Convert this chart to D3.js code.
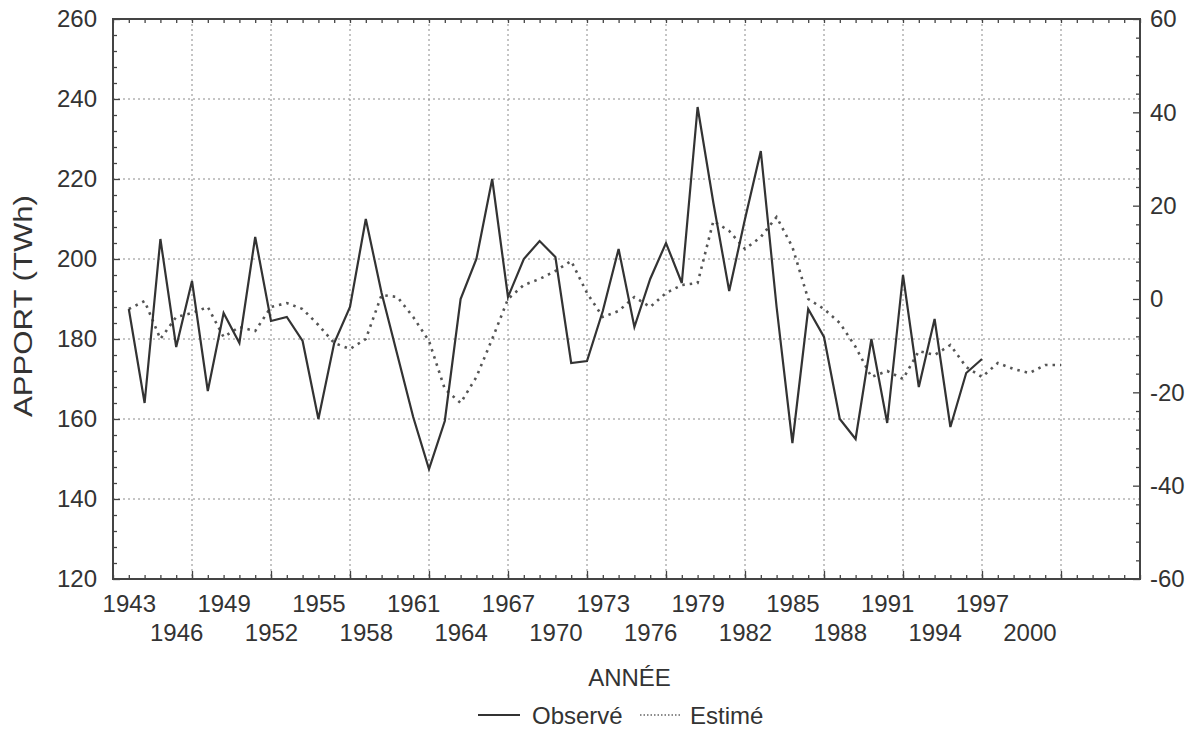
<!DOCTYPE html>
<html>
<head>
<meta charset="utf-8">
<script src="https://cdn.jsdelivr.net/npm/d3@7"></script>
<style>
  body { margin: 0; background: #fff; }
  text { font-family: "Liberation Sans", Arial, sans-serif; fill: #333; }
</style>
</head>
<body>
<svg id="chart"></svg>
<script>
// années + apports observés (TWh)
const anneesObs = [1943, 1944, 1945, 1946, 1947, 1948, 1949, 1950, 1951, 1952,
  1953, 1954, 1955, 1956, 1957, 1958, 1959, 1960, 1961, 1962,
  1963, 1964, 1965, 1966, 1967, 1968, 1969, 1970, 1971, 1972,
  1973, 1974, 1975, 1976, 1977, 1978, 1979, 1980, 1981, 1982,
  1983, 1984, 1985, 1986, 1987, 1988, 1989, 1990, 1991, 1992,
  1993, 1994, 1995, 1996, 1997]
const observe = [187.5, 164, 205, 178, 194.5, 167, 186.5, 179, 205.5, 184.5,
  185.5, 179.5, 160, 179, 188, 210, 191.5, 176, 160.5, 147.5,
  159.5, 190, 200, 220, 190.5, 200, 204.5, 200.5, 174, 174.5,
  187, 202.5, 183, 195, 204, 194, 238, 214, 192, 210,
  227, 188, 154, 187.5, 180.5, 160, 155, 180, 159, 196,
  168, 185, 158, 171.5, 175]

// années + apports estimés
const anneesEst = [1943, 1944, 1945, 1946, 1947, 1948, 1949, 1950, 1951, 1952,
  1953, 1954, 1955, 1956, 1957, 1958, 1959, 1960, 1961, 1962,
  1963, 1964, 1965, 1966, 1967, 1968, 1969, 1970, 1971, 1972,
  1973, 1974, 1975, 1976, 1977, 1978, 1979, 1980, 1981, 1982,
  1983, 1984, 1985, 1986, 1987, 1988, 1989, 1990, 1991, 1992,
  1993, 1994, 1995, 1996, 1997, 1998, 1999, 2000, 2001, 2002]
const estime = [187.5, 189.5, 180, 185.5, 186.5, 188, 180.5, 183, 182, 188,
  189, 187.5, 183.5, 179, 177.5, 180, 191, 190.5, 185.5, 179.5,
  167.5, 164, 170.5, 180, 190, 193.5, 195, 197, 199.5, 191.5,
  185.5, 187, 190.5, 188, 191.5, 193.5, 194, 209.5, 207, 202.5,
  205.5, 210.5, 203, 190, 187.5, 184, 178, 170.5, 172, 170,
  177, 176, 178.5, 173, 170.5, 174, 172.5, 171.5, 173.5, 173.5]

// graduations
const xLabels = [1943, 1946, 1949, 1952, 1955, 1958, 1961, 1964, 1967, 1970,
  1973, 1976, 1979, 1982, 1985, 1988, 1991, 1994, 1997, 2000]
const xGrid = [1947, 1952, 1957, 1962, 1967, 1972, 1977, 1982, 1987, 1992, 1997, 2002]
const xMinor = [1942, 1943, 1944, 1945, 1946, 1947, 1948, 1949, 1950, 1951, 1952, 1953, 1954,
  1955, 1956, 1957, 1958, 1959, 1960, 1961, 1962, 1963, 1964, 1965, 1966, 1967, 1968,
  1969, 1970, 1971, 1972, 1973, 1974, 1975, 1976, 1977, 1978, 1979, 1980, 1981, 1982,
  1983, 1984, 1985, 1986, 1987, 1988, 1989, 1990, 1991, 1992, 1993, 1994, 1995, 1996,
  1997, 1998, 1999, 2000, 2001, 2002, 2003, 2004, 2005, 2006, 2007]
const yLeftTicks = [120, 140, 160, 180, 200, 220, 240, 260]
const yLeftMinor = [124, 128, 132, 136, 144, 148, 152, 156, 164, 168, 172, 176, 184, 188, 192, 196,
  204, 208, 212, 216, 224, 228, 232, 236, 244, 248, 252, 256]
const yRightTicks = [-60, -40, -20, 0, 20, 40, 60]
const yRightMinor = [-56, -52, -48, -44, -36, -32, -28, -24, -16, -12, -8, -4,
  4, 8, 12, 16, 24, 28, 32, 36, 44, 48, 52, 56]

const largeur = 1200, hauteur = 731
const margin = {left: 113, top: 19, right: 60, bottom: 152}
const x0 = margin.left, x1 = largeur - margin.right
const y0 = margin.top, y1 = hauteur - margin.bottom

const svg = d3.select("#chart").attr("width", largeur).attr("height", hauteur)

const x = d3.scaleLinear().domain([1942, 2007]).range([x0, x1])
const yL = d3.scaleLinear().domain([120, 260]).range([y1, y0])
const yR = d3.scaleLinear().domain([-60, 60]).range([y1, y0])

// grille pointillée
const grille = svg.append("g").attr("stroke", "#8a8a8a").attr("stroke-width", 1).attr("stroke-dasharray", "2,3")
grille.selectAll("line.v").data(xGrid).join("line")
  .attr("x1", d => x(d)).attr("x2", d => x(d)).attr("y1", y0).attr("y2", y1)
grille.selectAll("line.h").data(yLeftTicks.slice(1, -1)).join("line").attr("class", "h")
  .attr("x1", x0).attr("x2", x1).attr("y1", d => yL(d)).attr("y2", d => yL(d))

// axes (ticks vers l'intérieur)
const styleAxe = g => {
  g.select(".domain").remove()
  g.selectAll("line").attr("stroke", "#444").attr("stroke-width", 1.3)
  g.selectAll("text").style("font-size", "24px").attr("fill", "#333")
}

svg.append("g").attr("transform", `translate(0,${y1})`)
  .call(d3.axisBottom(x).tickValues(xMinor).tickSize(-4).tickFormat(""))
  .call(styleAxe)
svg.append("g").attr("transform", `translate(0,${y1})`)
  .call(d3.axisBottom(x).tickValues(xGrid).tickSize(-8).tickFormat(""))
  .call(styleAxe)
svg.append("g").attr("transform", `translate(0,${y0})`)
  .call(d3.axisTop(x).tickValues(xMinor).tickSize(-4).tickFormat(""))
  .call(styleAxe)

// labels années sur deux rangées
svg.append("g").attr("transform", `translate(0,${y1})`)
  .call(d3.axisBottom(x).tickValues(xLabels).tickSize(0).tickFormat(d => String(d)))
  .call(styleAxe)
  .selectAll("text")
  .attr("y", (d, i) => i % 2 === 0 ? 16 : 45)
  .attr("dy", "0.71em")

svg.append("g").attr("transform", `translate(${x0},0)`)
  .call(d3.axisLeft(yL).tickValues(yLeftTicks).tickSize(-7).tickPadding(16).tickFormat(d => String(d)))
  .call(styleAxe)
svg.append("g").attr("transform", `translate(${x0},0)`)
  .call(d3.axisLeft(yL).tickValues(yLeftMinor).tickSize(-4).tickFormat(""))
  .call(styleAxe)

svg.append("g").attr("transform", `translate(${x1},0)`)
  .call(d3.axisRight(yR).tickValues(yRightTicks).tickSize(-7).tickPadding(10).tickFormat(d => String(d)))
  .call(styleAxe)
svg.append("g").attr("transform", `translate(${x1},0)`)
  .call(d3.axisRight(yR).tickValues(yRightMinor).tickSize(-4).tickFormat(""))
  .call(styleAxe)

// cadre
svg.append("rect")
  .attr("x", x0).attr("y", y0).attr("width", x1 - x0).attr("height", y1 - y0)
  .attr("fill", "none").attr("stroke", "#444").attr("stroke-width", 2)

// courbes
const ligne = d3.line().x(d => x(d[0])).y(d => yL(d[1]))

svg.append("path")
  .datum(anneesEst.map((a, i) => [a, estime[i]]))
  .attr("d", ligne)
  .attr("fill", "none").attr("stroke", "#555").attr("stroke-width", 2.6)
  .attr("stroke-dasharray", "2.5,5")

svg.append("path")
  .datum(anneesObs.map((a, i) => [a, observe[i]]))
  .attr("d", ligne)
  .attr("fill", "none").attr("stroke", "#333").attr("stroke-width", 2.2)
  .attr("stroke-linejoin", "miter")

// titres
svg.append("text")
  .attr("x", (x0 + x1) / 2 + 3).attr("y", 686)
  .attr("text-anchor", "middle").style("font-size", "24px")
  .text("ANNÉE")

svg.append("text")
  .attr("transform", `translate(32,${(y0 + y1) / 2 + 7}) rotate(-90)`)
  .attr("text-anchor", "middle").style("font-size", "25px")
  .attr("textLength", 222).attr("lengthAdjust", "spacingAndGlyphs")
  .text("APPORT (TWh)")

// légende
const leg = svg.append("g")
leg.append("line").attr("x1", 478).attr("x2", 520).attr("y1", 715).attr("y2", 715)
  .attr("stroke", "#333").attr("stroke-width", 2)
leg.append("text").attr("x", 532).attr("y", 724).style("font-size", "24px").text("Observé")
leg.append("line").attr("x1", 640).attr("x2", 680).attr("y1", 715).attr("y2", 715)
  .attr("stroke", "#666").attr("stroke-width", 1.5).attr("stroke-dasharray", "1.5,2")
leg.append("text").attr("x", 690).attr("y", 724).style("font-size", "24px").text("Estimé")
</script>
</body>
</html>
